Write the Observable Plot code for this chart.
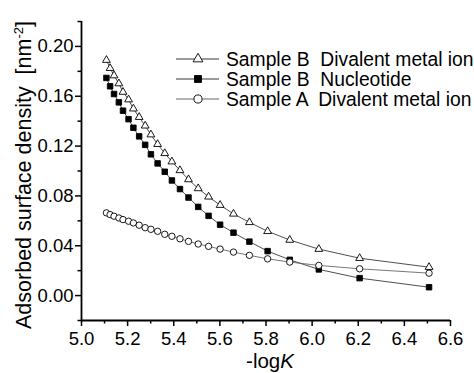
<!DOCTYPE html>
<html>
<head>
<meta charset="utf-8">
<script src="https://cdn.jsdelivr.net/npm/d3@7"></script>
<script src="https://cdn.jsdelivr.net/npm/@observablehq/plot@0.6"></script>
<style>
  html, body { margin: 0; padding: 0; background: #fff; }
  #chart { position: relative; width: 474px; height: 373px; }
  svg text { font-family: "Liberation Sans", Arial, Helvetica, sans-serif; }
</style>
</head>
<body>
<div id="chart"></div>
<script>
// -logK values (shared by all three series)
const negLogK = [5.108, 5.124, 5.141, 5.162, 5.180, 5.204, 5.225, 5.250, 5.276, 5.301, 5.330, 5.361, 5.392, 5.427, 5.464, 5.506, 5.551, 5.601, 5.659, 5.728, 5.807, 5.903, 6.029, 6.206, 6.507];
// Adsorbed surface density [nm^-2]
const sampleBDivalent = [0.189, 0.1825, 0.1766, 0.1702, 0.1634, 0.1573, 0.150, 0.1432, 0.1363, 0.1292, 0.1215, 0.1142, 0.1075, 0.1005, 0.0932, 0.086, 0.0793, 0.0726, 0.0656, 0.0588, 0.0516, 0.0446, 0.0373, 0.030, 0.0228];
const sampleBNucleotide = [0.1747, 0.168, 0.1618, 0.1551, 0.1484, 0.1416, 0.1347, 0.1278, 0.121, 0.1134, 0.1061, 0.0994, 0.0924, 0.0855, 0.0787, 0.0712, 0.064, 0.0569, 0.0505, 0.0433, 0.0357, 0.0287, 0.021, 0.014, 0.0067];
const sampleADivalent = [0.0664, 0.065, 0.0637, 0.0623, 0.061, 0.0597, 0.0583, 0.0565, 0.0545, 0.0532, 0.0516, 0.0492, 0.0476, 0.0456, 0.0435, 0.0414, 0.0395, 0.0373, 0.0349, 0.0323, 0.0295, 0.0269, 0.0242, 0.0215, 0.018];

const seriesNames = ["Sample B  Divalent metal ion", "Sample B  Nucleotide", "Sample A  Divalent metal ion"];

// Axes
const xDomain = [5.0, 6.6];
const yDomain = [-0.02, 0.22];
const xMajorTicks = [5.0, 5.2, 5.4, 5.6, 5.8, 6.0, 6.2, 6.4, 6.6];
const xMinorTicks = [5.1, 5.3, 5.5, 5.7, 5.9, 6.1, 6.3, 6.5];
const yMajorTicks = [0.00, 0.04, 0.08, 0.12, 0.16, 0.20];
const yMinorTicks = [-0.02, 0.02, 0.06, 0.10, 0.14, 0.18, 0.22];
const xLabel = "-log";
const xLabelItalic = "K";
const yLabel = "Adsorbed surface density  [nm";
const yLabelSup = "-2";
const yLabelEnd = "]";

const styles = [
  {symbol: "triangle", fill: "white", r: 2.9},
  {symbol: "square", fill: "black", r: 3.1},
  {symbol: "circle", fill: "white", r: 3.2}
];

const allSeries = [sampleBDivalent, sampleBNucleotide, sampleADivalent];
const data = allSeries.map((vals, i) => negLogK.map((x, j) => ({x, y: vals[j], s: seriesNames[i]})));

const marks = [];
data.forEach((d, i) => {
  marks.push(Plot.line(d, {x: "x", y: "y", stroke: i === 2 ? "#555" : "#222", strokeWidth: 0.8}));
  marks.push(Plot.dot(d, {x: "x", y: "y", symbol: () => styles[i].symbol, r: styles[i].r, fill: styles[i].fill, stroke: "black", strokeWidth: 0.9}));
});

const plot = Plot.plot({
  width: 474,
  height: 373,
  marginLeft: 81,
  marginRight: 24,
  marginTop: 21,
  marginBottom: 53,
  style: {fontFamily: "Liberation Sans, Arial, sans-serif", background: "white", color: "black"},
  x: {domain: xDomain},
  y: {domain: yDomain},
  symbol: {type: "identity"},
  marks: [
    Plot.axisX(xMajorTicks, {tickSize: 6, tickPadding: 5, fontSize: 18.5, strokeWidth: 1.5, tickFormat: d3.format(".1f"), label: null}),
    Plot.axisX(xMinorTicks, {tickSize: 3.5, strokeWidth: 1.5, tickFormat: () => "", label: null}),
    Plot.axisY(yMajorTicks, {tickSize: 6, tickPadding: 2, fontSize: 18.5, strokeWidth: 1.5, tickFormat: d3.format(".2f"), label: null}),
    Plot.axisY(yMinorTicks, {tickSize: 3.5, strokeWidth: 1.5, tickFormat: () => "", label: null}),
    Plot.ruleX([xDomain[0]], {strokeWidth: 1.8}),
    Plot.ruleY([yDomain[0]], {strokeWidth: 1.8}),
    ...marks
  ]
});

document.getElementById("chart").appendChild(plot);

const svg = d3.select(plot);
// y axis title
const yt = svg.append("text")
  .attr("transform", "translate(31,175) rotate(-90)")
  .attr("text-anchor", "middle")
  .attr("font-size", 21.5)
  .attr("fill", "black")
  .style("white-space", "pre");
yt.append("tspan").text(yLabel);
yt.append("tspan").attr("font-size", 13).attr("dy", -8).text(yLabelSup);
yt.append("tspan").attr("dy", 8).text(yLabelEnd);

// x axis title
const xt = svg.append("text")
  .attr("x", 270).attr("y", 368)
  .attr("text-anchor", "middle")
  .attr("font-size", 20.5)
  .attr("fill", "black");
xt.append("tspan").text(xLabel);
xt.append("tspan").attr("font-style", "italic").text(xLabelItalic);

// legend
const legend = svg.append("g");
seriesNames.forEach((name, i) => {
  const cy = 59 + i * 20;
  legend.append("line").attr("x1", 176).attr("x2", 219).attr("y1", cy).attr("y2", cy)
    .attr("stroke", i === 2 ? "#555" : "#222").attr("stroke-width", 0.9);
  const sym = {triangle: d3.symbolTriangle, square: d3.symbolSquare, circle: d3.symbolCircle}[styles[i].symbol];
  legend.append("path")
    .attr("d", d3.symbol(sym, Math.PI * styles[i].r * styles[i].r * 1.6)())
    .attr("transform", `translate(198,${cy})`)
    .attr("fill", styles[i].fill).attr("stroke", "black").attr("stroke-width", 0.9);
  legend.append("text").attr("x", 226).attr("y", cy).attr("dy", "0.36em")
    .attr("text-anchor", "start")
    .attr("font-size", 19.3).attr("fill", "black").style("white-space", "pre").text(name);
});
</script>
</body>
</html>
